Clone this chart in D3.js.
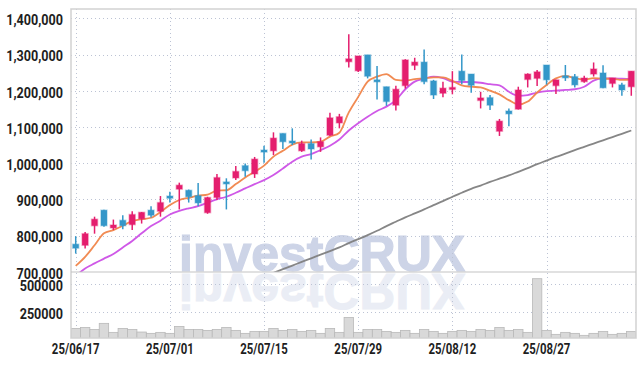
<!DOCTYPE html>
<html>
<head>
<meta charset="utf-8">
<script src="https://cdn.jsdelivr.net/npm/d3@7"></script>
<style>
  html, body { margin: 0; padding: 0; background: #fff; }
  svg { display: block; }
</style>
</head>
<body>
<div id="chart"></div>
<script>
// Trading days shown on the chart
var dates = [
  "25/06/17","25/06/18","25/06/19","25/06/20","25/06/23","25/06/24","25/06/25","25/06/26","25/06/27","25/06/30",
  "25/07/01","25/07/02","25/07/03","25/07/04","25/07/07","25/07/08","25/07/09","25/07/10","25/07/11","25/07/14",
  "25/07/15","25/07/16","25/07/17","25/07/18","25/07/21","25/07/22","25/07/23","25/07/24","25/07/25","25/07/28",
  "25/07/29","25/07/30","25/07/31","25/08/01","25/08/04","25/08/05","25/08/06","25/08/07","25/08/08","25/08/11",
  "25/08/12","25/08/13","25/08/14","25/08/18","25/08/19","25/08/20","25/08/21","25/08/22","25/08/25","25/08/26",
  "25/08/27","25/08/28","25/08/29","25/09/01","25/09/02","25/09/03","25/09/04","25/09/05","25/09/08","25/09/09"
];

// OHLC (won)
var open = [
  776000,773000,827000,870000,821000,842000,830000,846000,870000,867000,
  909000,928000,925000,910000,863000,905000,948000,959000,993000,970000,
  1036000,1034000,1082000,1061000,1034000,1054000,1045000,1077000,1111000,1280000,
  1255000,1299000,1230000,1211000,1160000,1214000,1270000,1279000,1227000,1193000,
  1205000,1254000,1246000,1173000,1181000,1088000,1144000,1149000,1231000,1234000,
  1271000,1214000,1241000,1239000,1225000,1246000,1249000,1220000,1216000,1211000
];
var high = [
  798000,810000,852000,871000,844000,856000,867000,865000,881000,909000,
  921000,946000,927000,945000,907000,970000,958000,992000,999000,1017000,
  1048000,1085000,1082000,1096000,1062000,1065000,1071000,1139000,1136000,1356000,
  1296000,1299000,1268000,1211000,1214000,1287000,1291000,1314000,1230000,1225000,
  1254000,1300000,1246000,1197000,1188000,1122000,1151000,1211000,1248000,1257000,
  1271000,1230000,1271000,1246000,1241000,1278000,1270000,1235000,1222000,1254000
];
var low = [
  750000,764000,805000,824000,815000,817000,815000,833000,850000,852000,
  891000,872000,891000,881000,860000,898000,872000,953000,962000,959000,
  1001000,1022000,1039000,1050000,1031000,1010000,1031000,1075000,1096000,1264000,
  1252000,1234000,1176000,1158000,1145000,1206000,1257000,1218000,1177000,1182000,
  1190000,1218000,1194000,1151000,1147000,1075000,1102000,1148000,1209000,1213000,
  1217000,1191000,1227000,1209000,1222000,1239000,1207000,1209000,1186000,1186000
];
var close = [
  765000,805000,845000,827000,829000,827000,858000,864000,856000,891000,
  903000,939000,907000,890000,905000,960000,944000,977000,979000,1011000,
  1031000,1069000,1059000,1057000,1054000,1039000,1059000,1125000,1128000,1288000,
  1296000,1240000,1225000,1170000,1204000,1285000,1279000,1225000,1188000,1207000,
  1209000,1228000,1215000,1180000,1160000,1116000,1136000,1202000,1246000,1252000,
  1230000,1230000,1237000,1216000,1235000,1260000,1208000,1235000,1202000,1254000
];

// Moving average lines
var maShort = [
  716000,741000,773000,806000,815000,827000,840000,845000,849000,865000,
  884000,898000,904000,910000,913000,924000,925000,942000,960000,976000,
  993000,1018000,1034000,1051000,1057000,1057000,1059000,1073000,1084000,1140000,
  1183000,1225000,1239000,1246000,1230000,1228000,1232000,1234000,1237000,1237000,
  1227000,1215000,1211000,1209000,1200000,1190000,1174000,1162000,1170000,1195000,
  1216000,1234000,1241000,1234000,1231000,1235000,1233000,1233000,1230000,1231000
];
var maMid = [
  688000,709000,723000,736000,749000,767000,785000,806000,826000,841000,
  858000,868000,875000,881000,891000,900000,907000,918000,930000,942000,
  953000,967000,985000,1004000,1018000,1025000,1036000,1048000,1065000,1090000,
  1110000,1128000,1144000,1156000,1174000,1204000,1225000,1233000,1239000,1235000,
  1225000,1224000,1224000,1222000,1218000,1215000,1197000,1186000,1188000,1195000,
  1199000,1200000,1202000,1204000,1211000,1228000,1234000,1234000,1233000,1232000
];
var maLong = [
  null,null,null,null,null,null,null,null,null,null,
  null,null,null,null,null,null,null,null,null,null,
  null,697000,707000,717000,727000,737000,747000,757000,767000,779000,
  790000,801000,813000,826000,838000,850000,861000,872000,884000,895000,
  907000,918000,929000,938000,948000,957000,966000,976000,986000,997000,
  1007000,1017000,1026000,1036000,1045000,1054000,1063000,1072000,1081000,1090000
];

// Volume
var volume = [
  99000,108000,90000,145000,63000,99000,90000,66000,54000,63000,
  54000,117000,90000,90000,81000,90000,108000,81000,54000,72000,
  72000,99000,81000,90000,72000,81000,54000,99000,63000,199000,
  63000,90000,90000,72000,63000,81000,54000,90000,72000,54000,
  72000,81000,72000,90000,81000,108000,81000,90000,63000,551000,
  81000,45000,63000,54000,36000,54000,72000,45000,54000,72000
];

var priceTicks = [700000, 800000, 900000, 1000000, 1100000, 1200000, 1300000, 1400000];
var volumeTicks = [250000, 500000];
var dateTicks = ["25/06/17", "25/07/01", "25/07/15", "25/07/29", "25/08/12", "25/08/27"];

var W = 644, H = 366;
var plotLeft = 71, plotRight = 636, plotTop = 9, split = 272, plotBottom = 338;
var upColor = "#e41e6e", downColor = "#3497c9";

var svg = d3.select("#chart").append("svg")
    .attr("width", W)
    .attr("height", H);

var defs = svg.append("defs");
defs.append("clipPath").attr("id", "clipPrice").append("rect")
    .attr("x", plotLeft).attr("y", plotTop)
    .attr("width", plotRight - plotLeft).attr("height", split - plotTop);
defs.append("clipPath").attr("id", "clipVol").append("rect")
    .attr("x", plotLeft).attr("y", split)
    .attr("width", plotRight - plotLeft).attr("height", plotBottom - split);

// Scales
var x = d3.scaleBand().domain(dates).range([plotLeft, plotRight]).padding(0);
var cx = d => x(d) + x.bandwidth() / 2;
var y = d3.scaleLinear().domain([700000, 1400000]).range([271.7, 18.3]);
var yv = d3.scaleLinear().domain([0, 500000]).range([339.3, 284.3]);

// Watermark with its reflection
function watermark(sel) {
    sel.attr("x", 179).attr("y", 271)
        .style("font-family", "Liberation Sans, Arial, sans-serif")
        .style("font-weight", "700")
        .style("font-size", "50px")
        .style("fill", "#cdd4e7")
        .style("stroke", "#cdd4e7")
        .style("stroke-width", 1.2)
        .text("investCRUX");
}
svg.append("g").attr("clip-path", "url(#clipPrice)")
    .append("text")
    .call(watermark);
svg.append("g").attr("clip-path", "url(#clipVol)")
    .append("text")
    .call(watermark)
    .attr("transform", "translate(0," + (2 * split + 1) + ") scale(1,-1)")
    .style("opacity", 0.4);

// Grid lines
var grid = svg.append("g")
    .attr("stroke", "#bcc3d4")
    .attr("stroke-width", 1)
    .attr("stroke-dasharray", "1,3");
grid.selectAll(".hgrid")
    .data(priceTicks.filter(d => d > 700000))
    .enter().append("line")
    .attr("x1", plotLeft).attr("x2", plotRight)
    .attr("y1", d => Math.round(y(d)) + 0.5).attr("y2", d => Math.round(y(d)) + 0.5);
grid.selectAll(".vhgrid")
    .data(volumeTicks)
    .enter().append("line")
    .attr("x1", plotLeft).attr("x2", plotRight)
    .attr("y1", d => Math.round(yv(d)) + 0.5).attr("y2", d => Math.round(yv(d)) + 0.5);
grid.selectAll(".vgrid")
    .data(dateTicks)
    .enter().append("line")
    .attr("x1", d => Math.round(cx(d)) + 0.5).attr("x2", d => Math.round(cx(d)) + 0.5)
    .attr("y1", plotTop).attr("y2", plotBottom);

// Volume bars
svg.append("g").attr("clip-path", "url(#clipVol)")
    .selectAll(".vol")
    .data(volume)
    .enter().append("rect")
    .attr("class", "vol")
    .attr("x", (d, i) => x(dates[i]))
    .attr("y", d => yv(d))
    .attr("width", x.bandwidth())
    .attr("height", d => yv(0) - yv(d))
    .attr("fill", "#d9d9d9")
    .attr("stroke", "#b9b9b9")
    .attr("stroke-width", 0.8);

// Moving averages
var priceLayer = svg.append("g").attr("clip-path", "url(#clipPrice)");
var line = d3.line()
    .defined(d => d != null)
    .x((d, i) => cx(dates[i]))
    .y(d => y(d))
    .curve(d3.curveMonotoneX);

[[maLong, "#808080"], [maMid, "#cc4fe6"], [maShort, "#f0854a"]].forEach(function (s) {
    priceLayer.append("path")
        .datum(s[0])
        .attr("d", line)
        .attr("fill", "none")
        .attr("stroke", s[1])
        .attr("stroke-width", 1.8)
        .attr("stroke-opacity", 0.95);
});

// Candles
var candles = dates.map((d, i) => ({ date: d, o: open[i], h: high[i], l: low[i], c: close[i] }));
var col = d => d.c >= d.o ? upColor : downColor;

priceLayer.selectAll(".wick")
    .data(candles)
    .enter().append("line")
    .attr("class", "wick")
    .attr("x1", d => cx(d.date)).attr("x2", d => cx(d.date))
    .attr("y1", d => y(d.h)).attr("y2", d => y(d.l))
    .attr("stroke", col)
    .attr("stroke-width", 1.5);

priceLayer.selectAll(".body")
    .data(candles)
    .enter().append("rect")
    .attr("class", "body")
    .attr("x", d => cx(d.date) - 3)
    .attr("y", d => y(Math.max(d.o, d.c)))
    .attr("width", 6)
    .attr("height", d => Math.max(2, Math.abs(y(d.o) - y(d.c))))
    .attr("fill", col)
    .attr("stroke", col)
    .attr("stroke-opacity", 0.35)
    .attr("stroke-width", 1.5);

// Frame and panel separator
svg.append("rect")
    .attr("x", plotLeft).attr("y", plotTop)
    .attr("width", plotRight - plotLeft).attr("height", plotBottom - plotTop)
    .attr("fill", "none")
    .attr("stroke", "#d2d2d2")
    .attr("stroke-width", 1.5);
svg.append("line")
    .attr("x1", plotLeft).attr("x2", plotRight)
    .attr("y1", split).attr("y2", split)
    .attr("stroke", "#c4c4c4")
    .attr("stroke-width", 1.2);

// Axes
function styleText(sel) {
    sel.style("font-family", "Roboto, sans-serif")
        .style("font-weight", "700")
        .style("font-size", "15px")
        .style("fill", "#1e1e1e");
}

var yAxis = svg.append("g")
    .attr("transform", `translate(${plotLeft}, 0)`)
    .call(d3.axisLeft(y).tickValues(priceTicks).tickFormat(d3.format(",")).tickSize(0));
var vAxis = svg.append("g")
    .attr("transform", `translate(${plotLeft}, 0)`)
    .call(d3.axisLeft(yv).tickValues(volumeTicks).tickFormat(d3.format("d")).tickSize(0));
[yAxis, vAxis].forEach(function (a) {
    a.select(".domain").remove();
    a.selectAll("text")
        .attr("x", -8 / 0.84)
        .attr("dy", "0.42em")
        .attr("transform", "scale(0.84,1)")
        .call(styleText);
});

var xAxis = svg.append("g")
    .attr("transform", `translate(0, ${plotBottom})`)
    .call(d3.axisBottom(x).tickValues(dateTicks).tickSize(0).tickPadding(5.5));
xAxis.select(".domain").remove();
xAxis.selectAll("text")
    .attr("transform", "scale(0.76,1)")
    .call(styleText);
</script>
</body>
</html>
